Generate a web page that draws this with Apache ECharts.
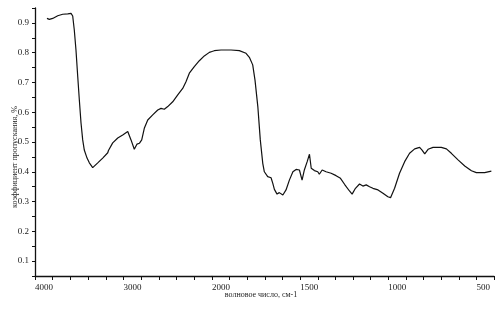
<!DOCTYPE html>
<html>
<head>
<meta charset="utf-8">
<script src="https://cdn.jsdelivr.net/npm/echarts@6/dist/echarts.min.js"></script>
<style>html,body{margin:0;padding:0;background:#fff;}#c{width:503px;height:314px;}</style>
</head>
<body>
<div id="c"></div>
<script>
// Wavenumbers (cm-1) and transmittance
var wavenumber = [3865,3838,3800,3743,3687,3630,3593,3574,3556,3537,3517,3499,3480,3461,3443,3412,3386,3348,
  3291,3235,3178,3170,3158,3122,3065,3009,2952,2941,2915,2878,2847,2821,2794,2765,2726,2670,2613,2576,2539,2500,
  2444,2387,2331,2294,2256,2200,2143,2087,2030,2000,
  1987,1949,1892,1845,1807,1788,1769,1756,1740,1726,1712,1703,1684,1665,1655,1646,1637,1631,1618,1598,1580,1561,
  1541,1523,1504,1489,1476,1460,1447,1437,1419,1400,1391,1375,1353,1324,1296,1271,1248,1220,1205,1186,1163,1144,
  1125,1106,1087,1078,1058,1030,1002,987,964,936,907,879,850,822,808,793,774,746,699,670,642,604,566,528,500,453,415];
var transmittance = [0.915,0.912,0.915,0.924,0.929,0.930,0.932,0.923,0.876,0.809,0.719,0.641,0.564,0.507,0.473,0.446,0.430,0.414,
  0.430,0.446,0.464,0.4715,0.466,0.497,0.5135,0.5235,0.535,0.537,0.507,0.4755,0.493,0.4957,0.507,0.546,0.574,0.591,0.6075,0.613,0.610,0.619,
  0.635,0.658,0.680,0.7025,0.731,0.753,0.773,0.789,0.801,0.804,
  0.8066,0.809,0.809,0.807,0.798,0.7845,0.759,0.708,0.619,0.507,0.4285,0.400,0.3835,0.380,0.361,0.341,0.342,0.325,0.330,0.322,0.339,0.372,
  0.400,0.408,0.406,0.372,0.406,0.434,0.459,0.412,0.404,0.400,0.3916,0.406,0.400,0.395,0.387,0.378,0.358,0.3355,0.325,0.3445,0.359,0.352,
  0.356,0.350,0.3445,0.348,0.339,0.328,0.316,0.313,0.3445,0.395,0.434,0.462,0.477,0.482,0.473,0.460,0.4755,0.482,0.482,0.477,0.462,0.440,0.4195,0.4036,0.397,0.397,0.402];
var xLabelsHigh = [4000, 3000, 2000];
var xLabelsLow = [1500, 1000, 500];
var yTitle = 'коэффициент пропускания, %';
var xTitle = 'волновое число, см-1';

var pairsHigh = [], pairsLow = [];
for (var i = 0; i < wavenumber.length; i++) {
  if (wavenumber[i] >= 2000) pairsHigh.push([wavenumber[i], transmittance[i]]);
  if (wavenumber[i] <= 2000) pairsLow.push([wavenumber[i], transmittance[i]]);
}

var font = 'Liberation Serif';
var labelStyle = {fontFamily: font, fontSize: 9, color: '#222'};
var axisLineStyle = {lineStyle: {color: '#111', width: 1.3}};

var chart = echarts.init(document.getElementById('c'), null, {renderer: 'canvas'});
chart.setOption({
  animation: false,
  backgroundColor: '#fff',
  grid: [
    {left: 35, top: 8, width: 177, height: 268},
    {left: 212, top: 8, width: 282, height: 268}
  ],
  xAxis: [
    {gridIndex: 0, type: 'value', min: 2000, max: 4000, interval: 200, inverse: true,
     axisLine: axisLineStyle, axisTick: {show: true, length: 4, lineStyle: {color: '#111'}},
     splitLine: {show: false},
     axisLabel: Object.assign({align: 'left', margin: 7, showMinLabel: true, showMaxLabel: true,
       formatter: function (v) { return xLabelsHigh.indexOf(Math.round(v)) >= 0 ? String(Math.round(v)) : ''; }}, labelStyle)},
    {gridIndex: 1, type: 'value', min: 400, max: 2000, interval: 100, inverse: true,
     axisLine: axisLineStyle, axisTick: {show: true, length: 4, lineStyle: {color: '#111'}},
     splitLine: {show: false},
     axisLabel: Object.assign({align: 'left', margin: 7, showMinLabel: true, showMaxLabel: true,
       formatter: function (v) { return xLabelsLow.indexOf(Math.round(v)) >= 0 ? String(Math.round(v)) : ''; }}, labelStyle)}
  ],
  yAxis: [
    {gridIndex: 0, type: 'value', min: 0.05, max: 0.95, interval: 0.05,
     axisLine: {show: true, lineStyle: {color: '#111', width: 1.3}},
     axisTick: {show: true, length: 3, lineStyle: {color: '#111'}},
     splitLine: {show: false},
     axisLabel: Object.assign({margin: 6, formatter: function (v) {
       var t = v * 10; return Math.abs(t - Math.round(t)) < 1e-6 ? v.toFixed(1) : ''; }}, labelStyle)},
    {gridIndex: 1, type: 'value', min: 0.05, max: 0.95, show: false, splitLine: {show: false}}
  ],
  series: [
    {type: 'line', xAxisIndex: 0, yAxisIndex: 0, data: pairsHigh, showSymbol: false, symbol: 'none',
     lineStyle: {color: '#111', width: 1.2}},
    {type: 'line', xAxisIndex: 1, yAxisIndex: 1, data: pairsLow, showSymbol: false, symbol: 'none',
     lineStyle: {color: '#111', width: 1.2}}
  ],
  graphic: [
    {type: 'text', x: 15, y: 157, rotation: Math.PI / 2,
     style: {text: yTitle, fontFamily: font, fontSize: 8, fill: '#222', textAlign: 'center', textVerticalAlign: 'middle'}},
    {type: 'text', x: 261, y: 295,
     style: {text: xTitle, fontFamily: font, fontSize: 8, fill: '#222', textAlign: 'center', textVerticalAlign: 'middle'}}
  ]
});
</script>
</body>
</html>
